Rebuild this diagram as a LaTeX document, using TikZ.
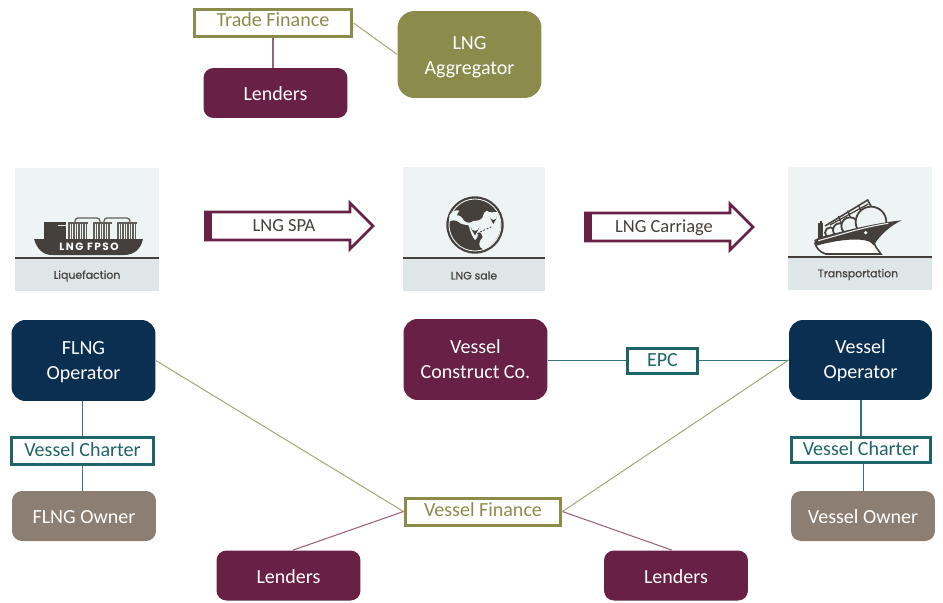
\documentclass[tikz,border=0pt]{standalone}
\usepackage{fontspec}
\setmainfont{Carlito}
\newfontfamily\iconfont[FakeBold=0.5]{Poppins}
\newfontfamily\hullfont[LetterSpace=14]{Poppins}
\usetikzlibrary{calc}
\definecolor{wine}{HTML}{682145}
\definecolor{olive}{HTML}{8B8C4C}
\definecolor{navy}{HTML}{0B2F50}
\definecolor{teal}{HTML}{1F6468}
\definecolor{taupe}{HTML}{8C7E73}
\definecolor{iconbg}{HTML}{EEF3F4}
\definecolor{iconband}{HTML}{DEE6E7}
\definecolor{icondark}{HTML}{45403C}
\tikzset{
  party/.style={rounded corners=0.2cm,inner sep=0,align=center,text=white,font=\fontsize{11.4}{14.2}\selectfont,minimum width=2.88cm,text height=9pt,text depth=0pt},
  bigparty/.style={party,rounded corners=0.28cm,text height=21.2pt},
  deal/.style={draw,fill=white,line width=0.06cm,inner sep=0,font=\fontsize{11.4}{14}\selectfont},
  oliveline/.style={draw=olive!75,line width=0.6pt},
  wineline/.style={draw=wine!70,line width=0.6pt},
  tealline/.style={draw=teal!90,line width=0.6pt},
  icontext/.style={inner sep=0,text=icondark,font=\iconfont\fontsize{6.2}{7}\selectfont},
  arrowtext/.style={inner sep=0,text=icondark,font=\fontsize{10.5}{14}\selectfont}
}
\begin{document}
\begin{tikzpicture}[x=0.02cm,y=-0.02cm]
    \useasboundingbox (0,0) rectangle (943,602);

    % top group
    \node[deal,draw=olive,text=olive,minimum width=3.16cm,minimum height=0.56cm,text depth=3.4pt] (tfin) at (273,23) {Trade Finance};
    \node[party,fill=wine,minimum height=1cm] (tlend) at (275.5,93) {Lenders};
    \node[bigparty,fill=olive,minimum height=1.74cm,rounded corners=0.34cm,text height=22.4pt] (aggr) at (469.5,54.5) {LNG\\Aggregator};
    \draw[wineline] (tfin.south) -- (tfin.south |- tlend.north);
    \draw[oliveline] (tfin.east) -- (aggr.west);

    % icon panels
    \foreach \xa/\xb/\ya/\ym/\yb in {15/159/168/258/291, 403/545/167/258/291, 788/932/167/257/290}{
      \fill[iconbg] (\xa,\ya) rectangle (\xb,\ym);
      \fill[iconband] (\xa,\ym) rectangle (\xb,\yb);
      \draw[icondark,line width=0.04cm] (\xa,\ym) -- (\xb,\ym);
    }
    % fpso
    \fill[icondark] (44,221.5) rectangle (66,240);
    \fill[iconbg] (58,225) rectangle (66,226);
    \foreach \x in {69,71.5,...,86.5,94,96.5,...,111,118,120.5,...,136}
      \draw[icondark!85,line width=0.6pt] (\x,223) -- (\x,239);
    \draw[icondark!85,line width=0.7pt] (68,223) -- (88,223) (93,223) -- (112,223) (117,223) -- (137,223);
    \draw[icondark!85,line width=0.7pt,rounded corners=0.06cm] (75,223) -- (75,218) -- (100,218) -- (100,223);
    \draw[icondark!85,line width=0.7pt,rounded corners=0.06cm] (104,223) -- (104,218) -- (130,218) -- (130,223);
    \fill[icondark] (34,239) -- (143,239) .. controls (141,249) and (134,255) .. (124,255) -- (52,255) .. controls (43,255) and (37,249) .. (34,239) -- cycle;
    \node[inner sep=0,text=white,font=\hullfont\bfseries\fontsize{6}{7}\selectfont] (fpso) at (89,246.5) {LNG FPSO};
    \node[icontext] (liq) at (87,276) {Liquefaction};

    % globe
    \begin{scope}[shift={(440,190)},x=0.00667cm,y=-0.00667cm]
      \fill[icondark] (105,105) circle (86);
      \draw[iconbg,line width=0.5pt] (105,105) circle (78);
      \fill[iconbg] (28,76) .. controls (36,64) and (48,58) .. (58,62) .. controls (54,68) and (52,72) .. (50,76) .. controls (58,74) and (66,82) .. (72,92) .. controls (80,100) and (92,100) .. (100,93) .. controls (112,92) and (122,92) .. (128,82) .. controls (130,72) and (134,64) .. (140,62) .. controls (150,70) and (160,66) .. (172,66) .. controls (182,84) and (184,106) .. (180,120) .. controls (172,150) and (152,172) .. (130,178) .. controls (114,172) and (114,156) .. (128,142) .. controls (126,130) and (120,126) .. (116,126) .. controls (114,138) and (110,148) .. (105,150) .. controls (96,140) and (90,122) .. (86,106) .. controls (76,104) and (64,104) .. (56,96) .. controls (46,88) and (34,92) .. (28,94) -- cycle;
      \fill[icondark] (105,137) .. controls (100,125) and (92,118) .. (92,110) arc (180:0:13) .. controls (118,118) and (110,125) .. (105,137) -- cycle;
      \fill[iconbg] (105,110) circle (6);
      \fill[icondark] (160,102) .. controls (156,92) and (149,86) .. (149,79) arc (180:0:11) .. controls (171,86) and (164,92) .. (160,102) -- cycle;
      \fill[iconbg] (160,79) circle (5);
      \draw[icondark,line width=0.5pt,dashed,dash pattern=on 1pt off 1pt] (112,132) .. controls (125,122) and (140,118) .. (155,110);
    \end{scope}
    \node[icontext] (sale) at (474,275.5) {LNG sale};

    % carrier
    \begin{scope}[shift={(805,190)},x=0.00667cm,y=-0.00667cm]
      \draw[icondark,line width=0.9pt] (60,108) -- (188,30) -- (200,52);
      \draw[icondark,line width=0.7pt] (75,105) -- (190,42) (100,78) -- (108,98) (128,62) -- (136,82) (160,45) -- (168,62);
      \fill[icondark] (40,100) rectangle (54,150);
      \fill[icondark] (45,92) rectangle (52,100);
      \foreach \cx/\cy/\r in {76/128/16, 104/120/20, 135/108/26, 198/96/46}{
        \filldraw[fill=iconbg,draw=icondark,line width=1pt] (\cx,\cy) circle (\r);
      }
      \filldraw[fill=white,draw=icondark,line width=0.9pt] (30,160) .. controls (90,150) and (150,140) .. (212,135) -- (208,160) .. controls (210,172) and (222,182) .. (228,192) -- (62,192) .. controls (44,186) and (34,174) .. (30,160) -- cycle;
      \fill[icondark] (28,150) -- (44,142) .. controls (110,125) and (200,100) .. (290,91) .. controls (255,108) and (225,135) .. (206,166) .. controls (190,136) and (90,150) .. (32,168) -- cycle;
      \draw[iconbg,line width=0.6pt] (40,152) .. controls (100,136) and (170,112) .. (250,100);
      \fill[iconbg] (182,128) circle (5.5);
    \end{scope}
    \node[icontext] (trans) at (858,274.5) {Transportation};

    % sale arrows
    \foreach \xa/\xb/\xc/\yc/\yd in {204/350/373/226/212, 584/730/753/227/213}{
      \fill[wine] (\xa,\yd-1) rectangle (\xa+8,2*\yc-\yd+1);
      \draw[wine,line width=0.055cm,miter limit=4] (\xa,\yd) -- (\xb,\yd) -- (\xb,\yc-23) -- (\xc,\yc) -- (\xb,\yc+23) -- (\xb,2*\yc-\yd) -- (\xa,2*\yc-\yd);
    }
    \node[arrowtext] (spa) at (284,226) {LNG SPA};
    \node[arrowtext] (carr) at (664,228) {LNG Carriage};

    % operators row
    \node[bigparty,fill=navy,minimum height=1.62cm] (flop) at (83.5,360.5) {FLNG\\Operator};
    \node[bigparty,fill=wine,minimum height=1.62cm] (vcon) at (475.5,359.5) {Vessel\\Construct Co.};
    \node[bigparty,fill=navy,minimum height=1.6cm,minimum width=2.86cm] (vop) at (860.5,360) {Vessel\\Operator};
    \node[deal,draw=teal,text=teal,minimum width=1.4cm,minimum height=0.5cm] (epc) at (662.5,360.5) {EPC};
    \draw[tealline] (epc.west -| vcon.east) -- (epc.west);
    \draw[tealline] (epc.east) -- (epc.east -| vop.west);

    % charters
    \node[deal,draw=teal,text=teal,minimum width=2.84cm,minimum height=0.54cm,text depth=1.2pt] (lchar) at (82.5,450.5) {Vessel Charter};
    \node[deal,draw=teal,text=teal,minimum width=2.78cm,minimum height=0.5cm,text depth=1.2pt] (rchar) at (861,449.5) {Vessel Charter};
    \node[party,fill=taupe,minimum height=1cm] (flown) at (84,516) {FLNG Owner};
    \node[party,fill=taupe,minimum height=1cm] (vown) at (863,516) {Vessel Owner};
    \draw[tealline] (flop.south -| lchar.north) -- (lchar.north);
    \draw[tealline] (lchar.south) -- (lchar.south |- flown.north);
    \draw[tealline] (rchar.north) -- (rchar.north |- vop.south);
    \draw[tealline] ([xshift=1.2pt]rchar.south) -- ([xshift=1.2pt]rchar.south |- vown.north);

    % vessel finance
    \node[deal,draw=olive,text=olive,minimum width=3.12cm,minimum height=0.54cm,text depth=2.4pt] (vfin) at (483,511.5) {Vessel Finance};
    \node[party,fill=wine,minimum height=1cm] (llend) at (288.5,575.5) {Lenders};
    \node[party,fill=wine,minimum height=1cm] (rlend) at (676,575.5) {Lenders};
    \draw[oliveline] (flop.east) -- (vfin.west);
    \draw[oliveline] (vop.west) -- (vfin.east);
    \draw[wineline] ([xshift=2.5pt]llend.north) -- (vfin.west);
    \draw[wineline] ([xshift=-2.3pt]rlend.north) -- (vfin.east);
\end{tikzpicture}
\end{document}
